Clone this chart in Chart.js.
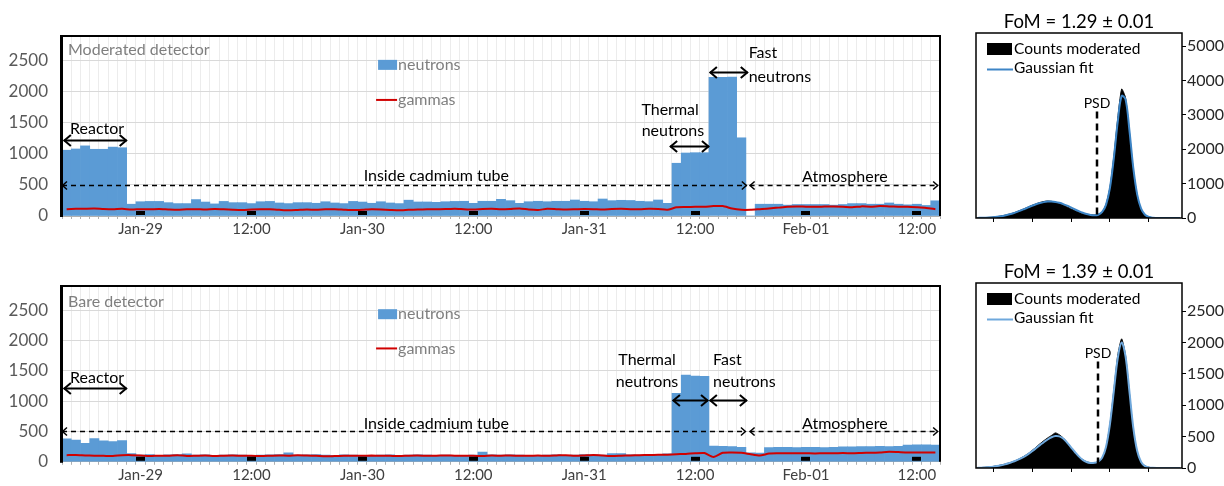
<!DOCTYPE html>
<html><head><meta charset="utf-8">
<script src="https://cdn.jsdelivr.net/npm/chart.js@4.4.1/dist/chart.umd.min.js"></script>
<style>
html,body{margin:0;padding:0;background:#fff;width:1224px;height:486px;overflow:hidden}
canvas{position:absolute}
</style></head><body>
<canvas id="mod" style="left:0;top:0" width="952" height="245"></canvas>
<canvas id="bare" style="left:0;top:250px" width="952" height="236"></canvas>
<canvas id="hmod" style="left:960px;top:0" width="264" height="240"></canvas>
<canvas id="hbare" style="left:960px;top:250px" width="264" height="236"></canvas>
<script>
// ---------- data ----------
const tickIdx  = [8, 20, 32, 44, 56, 68, 80, 92];
const tickText = ['Jan-29', '12:00', 'Jan-30', '12:00', 'Jan-31', '12:00', 'Feb-01', '12:00'];
const countTicks = [0, 500, 1000, 1500, 2000, 2500];
const modHistTicks = [0, 1000, 2000, 3000, 4000, 5000];
const bareHistTicks = [0, 500, 1000, 1500, 2000, 2500];

const modNeutrons = [1060,1080,1130,1075,1075,1110,1100,
  190,230,235,235,215,200,200,265,225,195,235,215,215,200,230,235,210,200,215,215,205,230,210,200,235,225,205,230,210,200,255,
  226,226,220,230,235,237,204,237,237,269,247,204,230,237,230,237,237,258,237,230,274,247,253,250,237,
  231,258,204,
  850,1015,1020,1020,2235,2235,2240,1260,0,
  190,190,190,175,185,185,185,185,175,185,200,200,190,190,210,190,180,190,170,245];
const modGammas = [110,115,118,120,112,108,115,
  105,110,108,112,105,100,108,110,105,112,108,100,95,105,110,108,100,92,98,105,100,108,110,102,95,100,108,105,98,92,100,
  105,110,108,112,118,110,105,112,115,108,112,120,105,98,115,110,105,108,112,110,105,112,115,110,108,115,112,100,
  140,145,150,150,160,160,120,100,100,110,120,
  135,150,155,150,148,152,155,150,140,155,150,160,155,150,148,140,130,110];
const bareNeutrons = [380,360,305,385,345,335,350,
  135,110,120,105,115,120,130,110,115,105,
  110,115,110,105,110,115,120,150,110,115,
  120,110,105,115,110,105,100,110,115,105,
  110,115,110,105,110,100,105,110,160,115,
  110,115,110,105,100,110,115,105,110,120,
  115,110,135,135,115,110,120,125,130,
  1130,1430,1415,1410,
  260,255,250,240,150,145,235,240,240,235,238,240,235,240,245,245,250,250,255,250,255,275,280,280,275];
const bareGammas = [110,112,105,100,98,95,108,
  110,105,95,100,98,110,95,100,105,95,
  100,102,98,100,95,100,105,100,110,102,
  98,90,95,100,98,100,102,100,98,95,
  100,102,98,100,105,100,98,100,95,102,
  100,105,98,100,102,100,105,110,100,105,
  112,105,95,100,105,110,112,115,118,
  125,130,140,145,80,150,155,150,125,105,135,140,142,140,140,138,142,140,145,140,145,150,155,165,160,155,155,155,155];

const psdBins = [0.06,0.07,0.08,0.09,0.10,0.11,0.12,0.13,0.14,0.15,0.16,0.17,0.18,0.19,0.20,0.21,0.22,0.23,0.24,0.25,
  0.26,0.27,0.28,0.29,0.30,0.31,0.32,0.33,0.34,0.35,0.36,0.37,0.38,0.39,0.40,0.41,0.42,0.43,0.44,0.45,
  0.46,0.47,0.48,0.49,0.50,0.51,0.52,0.53,0.54,0.55,0.56,0.57,0.58];
const modCounts = [5,8,12,18,28,40,58,80,108,140, 180,225,270,320,370,410,450,480,495,485,
  460,420,375,320,265,215,170,135,110,95, 90,105,170,400,900,1800,2900,3750,3500,2500,
  1400,650,250,90,30,10,0,0,0,0, 0,0,0];
const modFit = [3,6,10,16,25,37,53,74,100,132, 170,213,260,308,355,398,435,462,478,480,
  468,442,405,358,305,250,198,152,115,88, 78,95,175,390,880,1750,2800,3550,3450,2550,
  1450,680,270,95,30,8,2,0,0,0, 0,0,0];
const bareCounts = [5,8,12,18,25,35,48,62,80,100, 125,155,190,230,280,330,385,435,480,520,
  560,530,480,410,330,255,185,135,100,85, 85,100,160,330,700,1250,1800,2060,1800,1200,
  600,250,90,35,12,4,0,0,0,0, 0,0,0];
const bareFit = [3,6,10,15,22,32,44,58,76,97, 122,150,183,222,268,316,365,410,455,490,
  510,505,470,405,330,255,185,130,95,80, 82,100,165,340,700,1230,1750,2000,1780,1220,
  640,270,95,30,10,3,0,0,0,0, 0,0,0];

// ---------- annotations (hours from start, counts) ----------
const modNotes = [
  {t:'text', s:'Reactor', h:3.8, v:1400},
  {t:'arrow', h1:0.2, h2:7.0, v:1230},
  {t:'dash', h1:0.0, h2:74.1, v:500},
  {t:'text', s:'Inside cadmium tube', h:40.5, v:645},
  {t:'dash', h1:74.4, h2:94.8, v:500},
  {t:'text', s:'Atmosphere', h:84.7, v:630},
  {t:'text', s:'Thermal', h:65.8, v:1710},
  {t:'text', s:'neutrons', h:66.1, v:1370},
  {t:'arrow', h1:65.8, h2:70.0, v:1130},
  {t:'arrow', h1:70.1, h2:74.2, v:2320},
  {t:'text', s:'Fast', h:74.3, v:2630, left:true},
  {t:'text', s:'neutrons', h:74.3, v:2240, left:true}
];
const bareNotes = [
  {t:'text', s:'Reactor', h:3.8, v:1390},
  {t:'arrow', h1:0.2, h2:7.0, v:1210},
  {t:'dash', h1:0.0, h2:74.0, v:500},
  {t:'text', s:'Inside cadmium tube', h:40.5, v:630},
  {t:'dash', h1:74.4, h2:94.8, v:500},
  {t:'text', s:'Atmosphere', h:84.7, v:630},
  {t:'text', s:'Thermal', h:63.3, v:1680},
  {t:'text', s:'neutrons', h:63.3, v:1325},
  {t:'arrow', h1:66.1, h2:69.9, v:1015},
  {t:'arrow', h1:70.1, h2:74.1, v:1015},
  {t:'text', s:'Fast', h:70.45, v:1680, left:true},
  {t:'text', s:'neutrons', h:70.45, v:1325, left:true}
];

const FONT = 'Lato, "Open Sans", sans-serif';
const BLUE = '#5b9bd5';
const RED = '#d00000';

function arrow(ctx, x1, x2, y, dashed) {
  const hs = dashed ? 5 : 7;
  ctx.strokeStyle = '#000';
  ctx.lineWidth = dashed ? 1.5 : 2;
  ctx.setLineDash(dashed ? [5, 4] : []);
  ctx.beginPath(); ctx.moveTo(x1, y); ctx.lineTo(x2, y); ctx.stroke();
  ctx.setLineDash([]);
  ctx.beginPath();
  ctx.moveTo(x1 + hs, y - hs * 0.8); ctx.lineTo(x1 + 0.5, y); ctx.lineTo(x1 + hs, y + hs * 0.8);
  ctx.moveTo(x2 - hs, y - hs * 0.8); ctx.lineTo(x2 - 0.5, y); ctx.lineTo(x2 - hs, y + hs * 0.8);
  ctx.stroke();
}

const deco = {
  id: 'deco',
  afterDatasetsDraw(chart, args, o) {
    const {ctx, chartArea: a, scales: {x, y}} = chart;
    const n = chart.data.labels.length;
    const hx = h => a.left + h * a.width / n;
    ctx.save();
    ctx.fillStyle = '#000';
    tickIdx.forEach(i => {
      const px = x.getPixelForValue(i);
      ctx.fillRect(Math.round(px - 4.5), a.bottom - 5, 9, 4);
    });
    ctx.strokeStyle = '#000';
    ctx.lineWidth = 2;
    ctx.beginPath(); ctx.moveTo(a.left, a.top); ctx.lineTo(a.right, a.top); ctx.lineTo(a.right, a.bottom); ctx.stroke();
    ctx.lineWidth = 3;
    ctx.beginPath(); ctx.moveTo(a.left - 0.5, a.top - 1); ctx.lineTo(a.left - 0.5, a.bottom + 1); ctx.stroke();
    ctx.font = '16px ' + FONT;
    ctx.fillStyle = '#7f7f7f';
    ctx.textBaseline = 'middle';
    ctx.textAlign = 'left';
    ctx.fillText(o.title, a.left + 6, a.top + o.titleDy);
    const lx = hx(34.2);
    ctx.fillStyle = BLUE;
    ctx.fillRect(lx, y.getPixelForValue(2435) - 5, 19, 10);
    ctx.fillStyle = '#7f7f7f';
    ctx.fillText('neutrons', lx + 20, y.getPixelForValue(2435));
    ctx.strokeStyle = RED; ctx.lineWidth = 2;
    ctx.beginPath(); ctx.moveTo(lx - 2, y.getPixelForValue(1870)); ctx.lineTo(lx + 19, y.getPixelForValue(1870)); ctx.stroke();
    ctx.fillText('gammas', lx + 20, y.getPixelForValue(1870));
    ctx.font = '16px ' + FONT;
    ctx.fillStyle = '#000';
    o.notes.forEach(nt => {
      if (nt.t === 'text') {
        ctx.textAlign = nt.left ? 'left' : 'center';
        ctx.fillText(nt.s, hx(nt.h), y.getPixelForValue(nt.v));
      } else {
        arrow(ctx, hx(nt.h1), hx(nt.h2), Math.round(y.getPixelForValue(nt.v)) + 0.5, nt.t === 'dash');
      }
    });
    ctx.restore();
  }
};

function mainChart(id, neutrons, gammas, notes, title, titleDy, xh) {
  const labels = neutrons.map((_, i) => { const k = tickIdx.indexOf(i); return k >= 0 ? tickText[k] : ''; });
  return new Chart(document.getElementById(id), {
    type: 'bar',
    data: {labels, datasets: [
      {type: 'line', label: 'gammas', data: gammas, borderColor: RED, borderWidth: 2, pointRadius: 0, tension: 0.2, order: 0},
      {type: 'bar', label: 'neutrons', data: neutrons, backgroundColor: BLUE, borderWidth: 0, categoryPercentage: 1, barPercentage: 1, order: 1}
    ]},
    options: {
      responsive: false, animation: false, devicePixelRatio: 1,
      layout: {padding: {top: 36, right: 12, left: 0, bottom: 0}},
      plugins: {legend: {display: false}, tooltip: {enabled: false}, deco: {notes, title, titleDy}},
      scales: {
        x: {
          grid: {color: '#ececec', tickColor: '#b0b0b0', tickLength: 3, offset: true},
          border: {color: '#b0b0b0'},
          ticks: {autoSkip: false, maxRotation: 0, color: '#404040', font: {family: FONT, size: 15}, padding: 1},
          afterFit: s => { s.height = xh; }
        },
        y: {
          min: 0, max: 2900,
          afterBuildTicks: s => { s.ticks = countTicks.map(v => ({value: v})); },
          ticks: {color: '#595959', font: {family: FONT, size: 17}, padding: 14, callback: v => String(v)},
          grid: {color: '#d9d9d9', drawTicks: false},
          border: {display: false},
          afterFit: s => { s.width = 62; }
        }
      }
    },
    plugins: [deco]
  });
}

const hdeco = {
  id: 'hdeco',
  afterDatasetsDraw(chart, args, o) {
    const {ctx, chartArea: a, scales: {x, y}} = chart;
    ctx.save();
    ctx.strokeStyle = '#000'; ctx.lineWidth = 1.5;
    ctx.strokeRect(a.left, a.top, a.width, a.height);
    const px = Math.round(x.getPixelForValue(o.psdX));
    ctx.setLineDash([7, 5]); ctx.lineWidth = 2.5;
    ctx.beginPath(); ctx.moveTo(px, y.getPixelForValue(o.psdTop)); ctx.lineTo(px, a.bottom); ctx.stroke();
    ctx.setLineDash([]);
    ctx.fillStyle = '#000';
    ctx.textBaseline = 'middle';
    ctx.textAlign = 'center';
    ctx.font = '14px ' + FONT;
    ctx.fillText('PSD', px, y.getPixelForValue(o.psdText));
    ctx.font = '18.5px ' + FONT;
    ctx.fillText(o.title, (a.left + a.right) / 2, 22);
    ctx.fillRect(a.left + 11, a.top + 10, 25, 12);
    ctx.font = '15.5px ' + FONT;
    ctx.textAlign = 'left';
    ctx.fillText('Counts moderated', a.left + 38, a.top + 16);
    ctx.strokeStyle = o.fitColor; ctx.lineWidth = 2;
    ctx.beginPath(); ctx.moveTo(a.left + 11, a.top + 36.5); ctx.lineTo(a.left + 37, a.top + 36.5); ctx.stroke();
    ctx.fillText('Gaussian fit', a.left + 38, a.top + 35);
    ctx.restore();
  }
};

function histChart(id, counts, fit, ymax, yticks, xh, opts) {
  return new Chart(document.getElementById(id), {
    type: 'line',
    data: {datasets: [
      {label: 'Gaussian fit', data: psdBins.map((b, i) => ({x: b, y: fit[i]})), borderColor: opts.fitColor, borderWidth: 2, pointRadius: 0, tension: 0.35, fill: false, order: 0},
      {label: 'Counts moderated', data: psdBins.map((b, i) => ({x: b, y: counts[i]})), borderColor: '#000', backgroundColor: '#000', borderWidth: 1, pointRadius: 0, tension: 0.2, fill: 'origin', order: 1}
    ]},
    options: {
      responsive: false, animation: false, devicePixelRatio: 1,
      layout: {padding: {top: 33, left: 16, right: 0, bottom: 0}},
      plugins: {legend: {display: false}, tooltip: {enabled: false}, hdeco: opts},
      scales: {
        x: {
          type: 'linear', min: 0.056, max: 0.585,
          ticks: {stepSize: 0.1, includeBounds: false, callback: () => ''},
          grid: {drawOnChartArea: false, tickLength: 4, tickColor: '#000'},
          border: {display: false},
          afterFit: s => { s.height = xh; }
        },
        y: {
          position: 'right', min: 0, max: ymax,
          afterBuildTicks: s => { s.ticks = yticks.map(v => ({value: v})); },
          ticks: {color: '#262626', font: {family: FONT, size: 16}, padding: 1, callback: v => String(v)},
          grid: {drawOnChartArea: false, tickLength: 4, tickColor: '#000'},
          border: {display: false},
          afterFit: s => { s.width = 42; }
        }
      }
    },
    plugins: [hdeco]
  });
}

mainChart('mod', modNeutrons, modGammas, modNotes, 'Moderated detector', 14, 29);
mainChart('bare', bareNeutrons, bareGammas, bareNotes, 'Bare detector', 16, 20);
histChart('hmod', modCounts, modFit, 5380, modHistTicks, 22, {title: 'FoM = 1.29 \u00b1 0.01', fitColor: '#3d85c6', psdX: 0.366, psdTop: 3100, psdText: 3330});
histChart('hbare', bareCounts, bareFit, 2950, bareHistTicks, 18, {title: 'FoM = 1.39 \u00b1 0.01', fitColor: '#6fa8dc', psdX: 0.369, psdTop: 1700, psdText: 1830});
</script>
</body></html>
